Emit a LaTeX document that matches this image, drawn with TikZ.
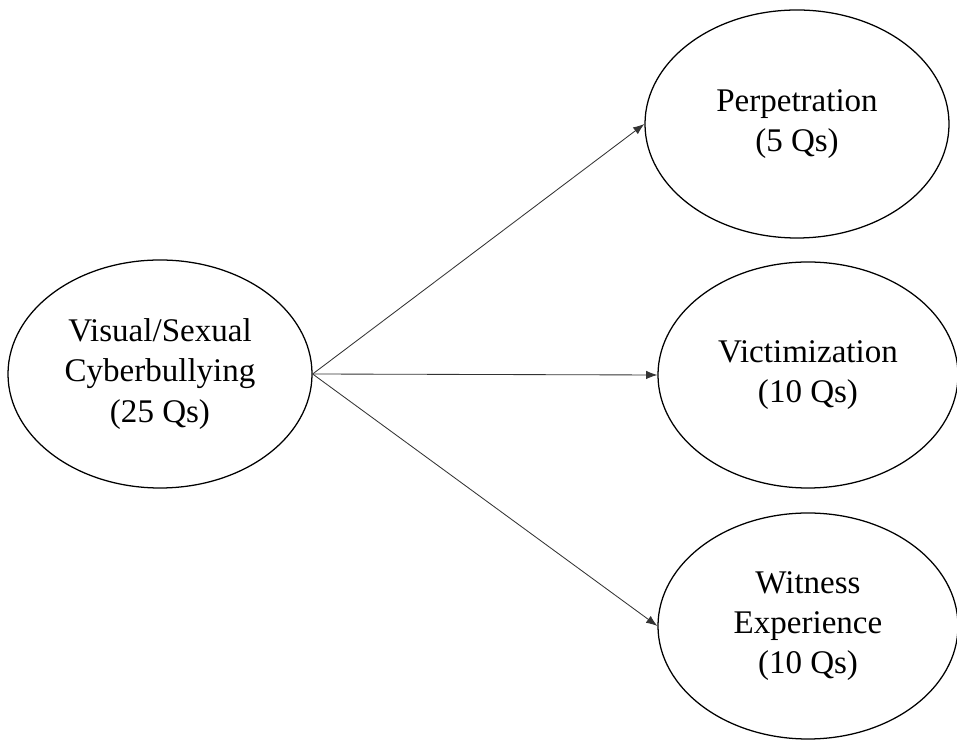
\documentclass[tikz,border=0pt]{standalone}
\usepackage{fontspec}
\setmainfont{Liberation Serif}
\usetikzlibrary{shapes.geometric,arrows.meta}
\tikzset{
  bubble/.style={ellipse,draw=black,line width=0.9pt,inner sep=0pt,align=center,
    font=\fontsize{23.5}{28.5}\selectfont},
  link/.style={-{Latex[length=8pt,width=6pt]},draw=black!80,line width=0.6pt}
}
\begin{document}
\begin{tikzpicture}
\useasboundingbox (0,0) rectangle (23.925,18.5);
\node[bubble,minimum width=7.6cm,minimum height=5.7cm] (vsc) at (4,9.15) {Visual/Sexual\\Cyberbullying\\(25 Qs)};
\node[bubble,minimum width=7.6cm,minimum height=5.7cm] (perp) at (19.925,15.4) {Perpetration\\(5 Qs)};
\node[bubble,minimum width=7.5cm,minimum height=5.65cm] (vict) at (20.2,9.125) {Victimization\\(10 Qs)};
\node[bubble,minimum width=7.5cm,minimum height=5.65cm] (witn) at (20.2,2.85) {Witness\\Experience\\(10 Qs)};
\draw[link] (vsc.east) -- (perp.west);
\draw[link] (vsc.east) -- (vict.west);
\draw[link] (vsc.east) -- (witn.west);
\end{tikzpicture}
\end{document}
